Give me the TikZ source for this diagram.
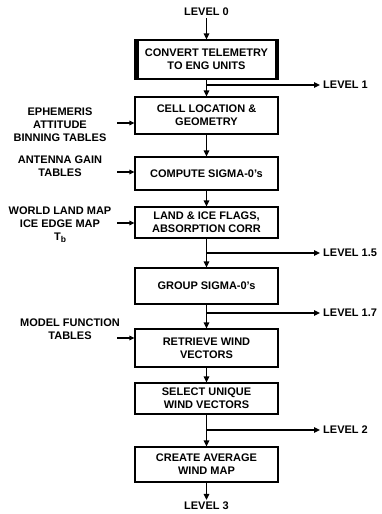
\documentclass[tikz,border=0pt]{standalone}
\usepackage{fontspec}
\setmainfont{Liberation Sans}
\usetikzlibrary{arrows.meta}
\begin{document}
\begin{tikzpicture}[x=1pt,y=-1pt,
  font=\bfseries\fontsize{11}{12.8}\selectfont,
  proc/.style={draw, line width=1.2pt, minimum width=143pt, align=center, inner sep=0pt},
  lbl/.style={align=center, inner sep=0pt},
  lev/.style={anchor=west, inner sep=3pt},
  flow/.style={line width=1.8pt, -{Triangle[length=6pt,width=5.5pt]}},
  brn/.style={line width=1.3pt, -{Triangle[length=6pt,width=5.5pt]}},
  inarr/.style={line width=1.3pt, -{Triangle[length=5pt,width=4.5pt]}}]
\useasboundingbox (0,0) rectangle (381,514);

% boxes
\node[proc, minimum height=39pt] (b1) at (206.5,59.5) {CONVERT TELEMETRY\\TO ENG UNITS};
\fill (b1.north west) rectangle ([xshift=4.5pt]b1.south west);
\fill (b1.north east) rectangle ([xshift=-4pt]b1.south east);
\node[proc, minimum height=37pt] (b2) at (206.5,115.5) {CELL LOCATION \&\\GEOMETRY};
\node[proc, minimum height=33pt] (b3) at (206.5,173.5) {COMPUTE SIGMA-0's};
\node[proc, minimum height=31pt] (b4) at (206.5,222.5) {LAND \& ICE FLAGS,\\ABSORPTION CORR};
\node[proc, minimum height=36pt] (b5) at (206.5,286) {GROUP SIGMA-0's};
\node[proc, minimum height=38pt] (b6) at (206.5,348) {RETRIEVE WIND\\VECTORS};
\node[proc, minimum height=31pt] (b7) at (206.5,398.5) {SELECT UNIQUE\\WIND VECTORS};
\node[proc, minimum height=35pt] (b8) at (206.5,464.5) {CREATE AVERAGE\\WIND MAP};

% top and bottom levels
\node[lbl] (l0) at (206.5,12) {LEVEL 0};
\node[lbl] (l3) at (206.5,506) {LEVEL 3};
\draw[flow] ([yshift=-2pt]l0.south) -- (b1.north);
\draw[flow] (b8.south) -- ([yshift=2pt]l3.north);

% main flow
\draw[flow] (b1) -- (b2);
\draw[flow] (b2) -- (b3);
\draw[flow] (b3) -- (b4);
\draw[flow] (b4) -- (b5);
\draw[flow] (b5) -- (b6);
\draw[flow] (b6) -- (b7);
\draw[flow] (b7) -- (b8);

% branches
\coordinate (r1) at (206.5,85);
\coordinate (r15) at (206.5,253);
\coordinate (r17) at (206.5,313);
\coordinate (r2) at (206.5,430);
\node[lev] (lv1) at (320,85) {LEVEL 1};
\node[lev] (lv15) at (320,253) {LEVEL 1.5};
\node[lev] (lv17) at (320,313) {LEVEL 1.7};
\node[lev] (lv2) at (320,430) {LEVEL 2};
\draw[brn] (r1) -- (lv1.west);
\draw[brn] (r15) -- (lv15.west);
\draw[brn] (r17) -- (lv17.west);
\draw[brn] (r2) -- (lv2.west);

% inputs
\node[lbl] (i1) at (60,124.5) {EPHEMERIS\\ATTITUDE\\BINNING TABLES};
\node[lbl] (i2) at (60,166.5) {ANTENNA GAIN\\TABLES};
\node[lbl] (i3) at (60,225) {WORLD LAND MAP\\ICE EDGE MAP\\T\raisebox{-2.5pt}{\fontsize{8.5}{8.5}\selectfont b}};
\node[lbl] (i4) at (70,329.5) {MODEL FUNCTION\\TABLES};
\coordinate (a1) at (117,123);
\coordinate (a2) at (117,172);
\coordinate (a3) at (117,223);
\coordinate (a4) at (117,338);
\draw[inarr] (a1) -- (a1 -| b2.west);
\draw[inarr] (a2) -- (a2 -| b3.west);
\draw[inarr] (a3) -- (a3 -| b4.west);
\draw[inarr] (a4) -- (a4 -| b6.west);
\end{tikzpicture}
\end{document}
